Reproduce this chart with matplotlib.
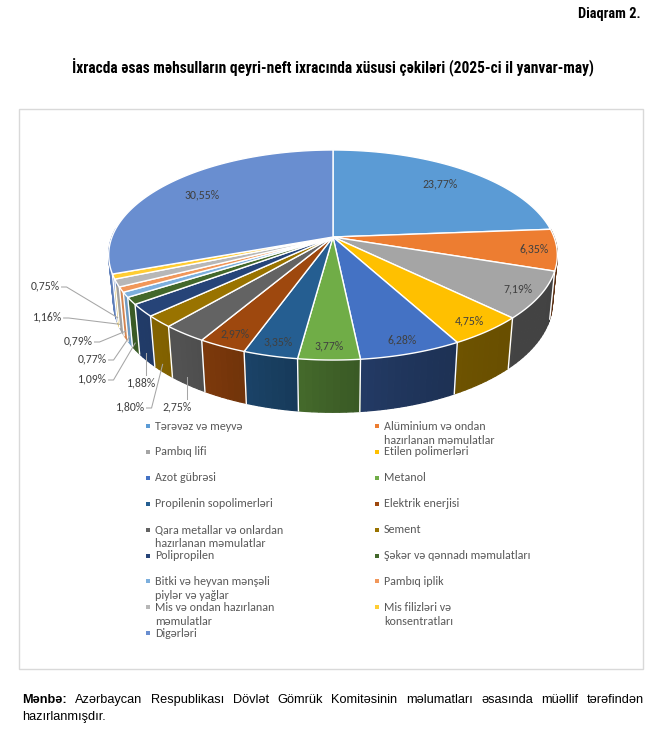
import numpy as np
import matplotlib
matplotlib.use("Agg")
import matplotlib.pyplot as plt
from matplotlib.patches import Polygon, Rectangle
import matplotlib.colors as mcolors

# data (share in non-oil export, %), clockwise from 12 o'clock
categories = [
    "Tərəvəz və meyvə", "Alüminium və ondan\nhazırlanan məmulatlar", "Pambıq lifi",
    "Etilen polimerləri", "Azot gübrəsi", "Metanol", "Propilenin sopolimerləri",
    "Elektrik enerjisi", "Qara metallar və onlardan\nhazırlanan məmulatlar", "Sement",
    "Polipropilen", "Şəkər və qənnadı məmulatları", "Bitki və heyvan mənşəli\npiylər və yağlar",
    "Pambıq iplik", "Mis və ondan hazırlanan\nməmulatlar", "Mis filizləri və\nkonsentratları",
    "Digərləri",
]
shares = [23.77, 6.35, 7.19, 4.75, 6.28, 3.77, 3.35, 2.97, 2.75, 1.80,
          1.88, 1.09, 0.77, 0.79, 1.16, 0.75, 30.55]
colors = ["#5B9BD5", "#ED7D31", "#A5A5A5", "#FFC000", "#4472C4", "#70AD47",
          "#255E91", "#9E480E", "#636363", "#997300", "#264478", "#43682B",
          "#7CAFDD", "#F1975A", "#B7B7B7", "#FFCD33", "#698ED0"]

# outside labels: index -> label centre (px)
outside_pos = {8: (177, 407), 9: (130, 407), 10: (141, 383), 11: (92, 379),
               12: (92, 359), 13: (78, 341), 14: (47, 317), 15: (45, 286)}

W, H = 654, 739
fig = plt.figure(figsize=(W / 100, H / 100), dpi=100)
ax = fig.add_axes([0, 0, 1, 1])
ax.set_xlim(0, W)
ax.set_ylim(H, 0)
ax.axis("off")
renderer = fig.canvas.get_renderer()


def text_w(text, size, **kw):
    t = ax.text(0, 0, text, fontsize=size, **kw)
    w = t.get_window_extent(renderer).width
    t.remove()
    return w


def fit_size(text, target_w, **kw):
    return 10 * target_w / text_w(text, 10, **kw)


# simple perspective projection of a tilted disc
CX, CY, R = 333, 237, 221
sin_e = 0.4612
cos_e = np.sqrt(1 - sin_e ** 2)
DIST = 5.83 * cos_e
DEPTH = 0.24


def proj(theta, r=1.0, z=0.0):
    t = np.radians(theta)
    x = r * np.sin(t)
    y = r * np.cos(t)
    v = y * sin_e + z * cos_e
    w = y * cos_e - z * sin_e
    s = DIST / (DIST + w)
    return CX + R * x * s, CY - R * v * s


def light(theta):
    return 0.40 + 0.50 / (1 + np.exp(-(theta - 192) / 15))


vals = np.array(shares)
ends = np.cumsum(vals) / vals.sum() * 360
starts = np.concatenate([[0], ends[:-1]])

# side walls
for a0, a1, c in zip(starts, ends, colors):
    lo, hi = max(a0, 85), min(a1, 275)
    if hi <= lo:
        continue
    base = np.array(mcolors.to_rgb(c))
    steps = np.linspace(lo, hi, max(2, int((hi - lo) / 1.5) + 1))
    for t0, t1 in zip(steps[:-1], steps[1:]):
        col = np.clip(base * light((t0 + t1) / 2), 0, 1)
        quad = [proj(t0), proj(t1), proj(t1, z=-DEPTH), proj(t0, z=-DEPTH)]
        ax.add_patch(Polygon(quad, closed=True, facecolor=col, edgecolor=col,
                             lw=0.9, zorder=1))
for a in starts:
    if 85 < a < 275:
        p, q = proj(a), proj(a, z=-DEPTH)
        ax.plot([p[0], q[0]], [p[1], q[1]], color="white", lw=1.0, zorder=2)

# top face
for a0, a1, c in zip(starts, ends, colors):
    ts = np.linspace(a0, a1, max(3, int((a1 - a0) / 0.5) + 1))
    pts = [proj(0, r=0)] + [proj(t) for t in ts]
    ax.add_patch(Polygon(pts, closed=True, facecolor=c, edgecolor="white",
                         lw=1.0, joinstyle="round", zorder=3))

# data labels
lab_font = ["Carlito", "Lato", "DejaVu Sans"]
lab_size = fit_size("23,77%", 35, family=lab_font)
for i, (a0, a1, v) in enumerate(zip(starts, ends, shares)):
    txt = f"{v:.2f}%".replace(".", ",")
    mid = (a0 + a1) / 2
    if i in outside_pos:
        lx, ly = outside_pos[i]
        t = ax.text(lx, ly, txt, fontsize=lab_size, family=lab_font, color="#404040",
                    ha="center", va="center", zorder=5)
        bb = t.get_window_extent(renderer)
        half_w = bb.width / 2
        anc = proj(mid, z=-DEPTH * 0.85)
        if abs(anc[0] - lx) < half_w:
            xs = [anc[0], anc[0]]
            ys = [ly - 8, anc[1]]
        else:
            xe = lx + half_w + 2
            xs = [xe, xe + 5, anc[0]]
            ys = [ly + 1, ly + 1, anc[1]]
        ax.plot(xs, ys, color="#A6A6A6", lw=0.75, zorder=4)
    else:
        rl = 0.78 if v > 20 else 0.9
        px, py = proj(mid, r=rl)
        ax.text(px, py, txt, fontsize=lab_size, family=lab_font, color="#404040",
                ha="center", va="center", zorder=5)

# legend
leg_size = fit_size("Tərəvəz və meyvə", 88, family=lab_font)
col_x = [148, 377]
row_y0, row_dy, line_dy = 426, 25.9, 14
for i, (name, c) in enumerate(zip(categories, colors)):
    r, k = divmod(i, 2)
    mx, my = col_x[k], row_y0 + r * row_dy
    ax.scatter([mx], [my], marker="s", s=9, color=c, zorder=5, linewidths=0)
    for j, line in enumerate(name.split("\n")):
        ax.text(mx + 7, my + j * line_dy, line, fontsize=leg_size, family=lab_font,
                color="#595959", ha="left", va="center", zorder=5)

# chart area border
ax.add_patch(Rectangle((19, 109), 624, 560, facecolor="none", edgecolor="#D9D9D9",
                       lw=1.0, zorder=0))

# headings
narrow = ["Roboto Condensed", "Archivo Narrow", "DejaVu Sans"]
title = "İxracda əsas məhsulların qeyri-neft ixracında xüsusi çəkiləri (2025-ci il yanvar-may)"
ax.text(641, 14, "Diaqram 2.", fontsize=fit_size("Diaqram 2.", 63, family=narrow, weight="bold"),
        family=narrow, weight="bold", ha="right", va="center", color="black")
ax.text(333, 68, title, fontsize=fit_size(title, 527, family=narrow, weight="bold"),
        family=narrow, weight="bold", ha="center", va="center", color="black")

# source note, first line justified
foot_font = ["Liberation Sans", "Arimo", "DejaVu Sans"]
words = ["Mənbə:", "Azərbaycan", "Respublikası", "Dövlət", "Gömrük", "Komitəsinin",
         "məlumatları", "əsasında", "müəllif", "tərəfindən"]
weights = ["bold"] + ["normal"] * (len(words) - 1)
raw = sum(text_w(wd, 10, family=foot_font, weight=wt) for wd, wt in zip(words, weights))
foot_size = 10 * 545 / raw
widths = [text_w(wd, foot_size, family=foot_font, weight=wt) for wd, wt in zip(words, weights)]
x0, x1 = 22, 644
gap = (x1 - x0 - sum(widths)) / (len(words) - 1)
x = x0
for wd, wt, wdt in zip(words, weights, widths):
    ax.text(x, 700, wd, fontsize=foot_size, family=foot_font, weight=wt,
            ha="left", va="center", color="black")
    x += wdt + gap
ax.text(22, 717, "hazırlanmışdır.", fontsize=foot_size, family=foot_font,
        ha="left", va="center", color="black")

fig.savefig("out.png", dpi=100)
